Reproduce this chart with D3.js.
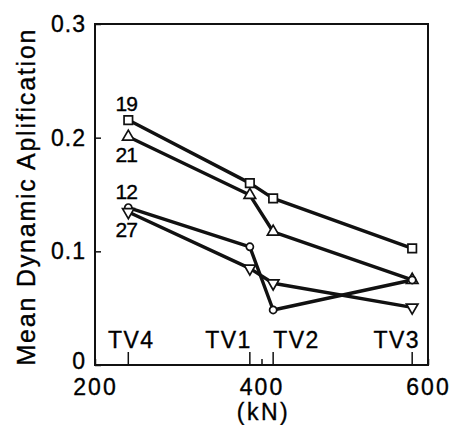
<!DOCTYPE html>
<html>
<head>
<meta charset="utf-8">
<script src="https://cdn.jsdelivr.net/npm/d3@7"></script>
<style>
  body { margin: 0; background: #fff; }
  text { font-family: "Liberation Sans", Arial, Helvetica, sans-serif; fill: #000; stroke: #000; stroke-width: 0.35px; }
</style>
</head>
<body>
<div id="chart"></div>
<script>
'use strict';
// loads of the four test vehicles (kN)
const vehicles = ["TV4", "TV1", "TV2", "TV3"];
const loads = [240, 386, 414, 581];
// mean dynamic amplification per series
const seriesNames = ["19", "21", "12", "27"];
const series19 = [0.2155, 0.160, 0.1466, 0.1026];
const series21 = [0.2008, 0.1495, 0.1172, 0.0748];
const series12 = [0.1385, 0.104, 0.0484, 0.0748];
const series27 = [0.1346, 0.085, 0.0719, 0.0507];
const xTicks = [200, 400, 600];
const yTicks = [0, 0.1, 0.2, 0.3];

function drawChart() {
  let width = 452, height = 425;
  let margin = { left: 95, right: 24, top: 24, bottom: 60 };

  let svg = d3.select("#chart").append("svg")
    .attr("width", width)
    .attr("height", height);

  let x = d3.scaleLinear().domain([200, 600]).range([margin.left, width - margin.right]);
  let y = d3.scaleLinear().domain([0, 0.3]).range([height - margin.bottom, margin.top]);

  // frame
  svg.append("rect")
    .attr("x", x(200)).attr("y", y(0.3))
    .attr("width", x(600) - x(200)).attr("height", y(0) - y(0.3))
    .attr("fill", "none").attr("stroke", "#111").attr("stroke-width", 2);

  // y axis, ticks pointing inward
  let yAxis = d3.axisLeft(y).tickValues(yTicks)
    .tickFormat(d => d === 0 ? "0" : d3.format(".1f")(d))
    .tickSize(-6).tickPadding(9);
  let gy = svg.append("g").attr("transform", "translate(" + x(200) + ",0)").call(yAxis);
  gy.select(".domain").remove();
  gy.selectAll("line").attr("stroke", "#111").attr("stroke-width", 1.5);
  gy.selectAll("text").attr("font-size", "23px").attr("letter-spacing", "1px").attr("fill", "#000")
    .attr("dy", d => d === 0 ? "0.17em" : "0.32em");

  // x axis with numeric ticks
  let xAxis = d3.axisBottom(x).tickValues(xTicks).tickSize(-6).tickPadding(14);
  let gx = svg.append("g").attr("transform", "translate(0," + y(0) + ")").call(xAxis);
  gx.select(".domain").remove();
  gx.selectAll("line").attr("stroke", "#111").attr("stroke-width", 1.5);
  gx.selectAll("text").attr("font-size", "23px").attr("letter-spacing", "2px").attr("fill", "#000");

  // vehicle ticks & labels
  let anchors = ["middle", "end", "start", "end"];
  let dx = [3, 2, 0, 8];
  let gv = svg.append("g");
  vehicles.forEach(function (v, i) {
    gv.append("line")
      .attr("x1", x(loads[i])).attr("x2", x(loads[i]))
      .attr("y1", y(0)).attr("y2", y(0) - 13)
      .attr("stroke", "#111").attr("stroke-width", 1.5);
    gv.append("text")
      .attr("x", x(loads[i]) + dx[i])
      .attr("y", y(0) - 17)
      .attr("text-anchor", anchors[i])
      .attr("font-size", "23px")
      .attr("letter-spacing", "1.5px")
      .text(v);
  });

  // axis titles
  svg.append("text")
    .attr("transform", "translate(35," + ((y(0) + y(0.3)) / 2 + 3) + ") rotate(-90)")
    .attr("text-anchor", "middle")
    .attr("font-size", "25px")
    .attr("textLength", 336)
    .attr("lengthAdjust", "spacing")
    .text("Mean Dynamic Aplification");
  svg.append("text")
    .attr("x", x(400) + 2).attr("y", 420)
    .attr("text-anchor", "middle")
    .attr("font-size", "23px")
    .attr("letter-spacing", "2.5px")
    .text("(kN)");

  // lines
  let allSeries = [series19, series21, series12, series27];
  let markers = ["square", "triangle", "circle", "triangleDown"];
  let labelAbove = [true, false, true, false];
  let line = d3.line().x((d, i) => x(loads[i])).y(d => y(d));

  let gl = svg.append("g");
  allSeries.forEach(function (s) {
    gl.append("path")
      .attr("d", line(s))
      .attr("fill", "none").attr("stroke", "#111")
      .attr("stroke-width", 3.4).attr("stroke-linejoin", "round");
  });

  let symbolFor = {
    square: d3.symbol().type(d3.symbolSquare).size(72),
    triangle: d3.symbol().type(d3.symbolTriangle).size(58),
    circle: d3.symbol().type(d3.symbolCircle).size(40),
    triangleDown: d3.symbol().type(d3.symbolTriangle).size(58)
  };
  allSeries.forEach(function (s, k) {
    gl.selectAll(null).data(s).enter().append("path")
      .attr("d", symbolFor[markers[k]])
      .attr("transform", (d, i) => "translate(" + x(loads[i]) + "," + y(d) + ")" +
        (markers[k] === "triangleDown" ? " rotate(180)" : ""))
      .attr("fill", "#fff").attr("stroke", "#111").attr("stroke-width", 1.7);

    gl.append("text")
      .attr("x", x(loads[0]) - 2)
      .attr("y", labelAbove[k] ? y(s[0]) - 9 : y(s[0]) + 25)
      .attr("text-anchor", "middle")
      .attr("font-size", "21px")
      .attr("letter-spacing", "-1px")
      .text(seriesNames[k]);
  });
}
drawChart();
</script>
</body>
</html>
